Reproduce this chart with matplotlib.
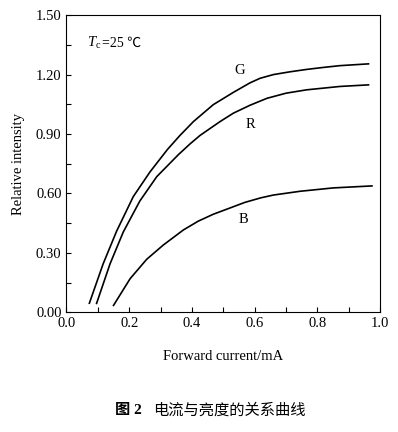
import matplotlib.pyplot as plt
from matplotlib.ticker import MultipleLocator

# curves (forward current in mA, relative intensity)
g_x = [0.073, 0.117, 0.160, 0.213, 0.266, 0.322, 0.362, 0.405, 0.468, 0.532, 0.585, 0.617, 0.660, 0.713, 0.766, 0.819, 0.872, 0.963]
g_y = [0.046, 0.245, 0.410, 0.584, 0.708, 0.822, 0.893, 0.963, 1.048, 1.110, 1.158, 1.181, 1.200, 1.214, 1.226, 1.236, 1.245, 1.254]

r_x = [0.096, 0.139, 0.181, 0.234, 0.288, 0.357, 0.394, 0.426, 0.490, 0.532, 0.585, 0.639, 0.700, 0.766, 0.872, 0.963]
r_y = [0.045, 0.245, 0.405, 0.562, 0.685, 0.796, 0.850, 0.893, 0.963, 1.005, 1.045, 1.080, 1.106, 1.123, 1.140, 1.148]

b_x = [0.150, 0.203, 0.256, 0.309, 0.373, 0.420, 0.468, 0.522, 0.569, 0.620, 0.660, 0.745, 0.851, 0.974]
b_y = [0.035, 0.170, 0.268, 0.340, 0.416, 0.460, 0.495, 0.527, 0.555, 0.578, 0.592, 0.611, 0.628, 0.638]

plt.rcParams['font.family'] = ['Liberation Serif', 'Noto Sans CJK SC']
plt.rcParams['mathtext.fontset'] = 'custom'
plt.rcParams['mathtext.rm'] = 'Liberation Serif'
plt.rcParams['mathtext.it'] = 'Liberation Serif:italic'

fig = plt.figure(figsize=(3.98, 4.32), dpi=100)
ax = fig.add_axes([0.167, 0.277, 0.788, 0.688])

for xs, ys in [(g_x, g_y), (r_x, r_y), (b_x, b_y)]:
    ax.plot(xs, ys, color='black', lw=1.2)

ax.text(0.553, 1.223, 'G', fontsize=10.5, ha='center', va='center')
ax.text(0.585, 0.95, 'R', fontsize=10.5, ha='center', va='center')
ax.text(0.566, 0.47, 'B', fontsize=10.5, ha='center', va='center')
ax.text(0.065, 1.36, r'$T_{\rm c}$', fontsize=10.5, ha='left', va='center')
ax.text(0.112, 1.36, '=25 ℃', fontsize=10, ha='left', va='center',
        family=['Liberation Serif', 'Noto Sans CJK SC'])

ax.set_xlim(0, 1.0)
ax.set_ylim(0, 1.5)
ax.xaxis.set_major_locator(MultipleLocator(0.2))
ax.xaxis.set_minor_locator(MultipleLocator(0.1))
ax.yaxis.set_major_locator(MultipleLocator(0.3))
ax.yaxis.set_minor_locator(MultipleLocator(0.15))
ax.set_xticklabels([f'{v:.1f}' for v in ax.get_xticks()])
ax.set_yticklabels([f'{v:.2f}' for v in ax.get_yticks()])
ax.tick_params(which='both', direction='in', length=3.5, width=0.8, labelsize=10.5)
for s in ax.spines.values():
    s.set_linewidth(0.8)

ax.set_xlabel('Forward current/mA', fontsize=10.5, labelpad=14)
ax.set_ylabel('Relative intensity', fontsize=10.5, labelpad=8)

fig.text(0.355, 0.05, '图 2', fontsize=11, ha='right', va='center', weight='bold',
         family=['Liberation Serif', 'Noto Sans CJK SC'])
fig.text(0.385, 0.05, '电流与亮度的关系曲线', fontsize=11, ha='left', va='center',
         family=['Noto Sans CJK SC'])

fig.savefig('out.png', dpi=100)
